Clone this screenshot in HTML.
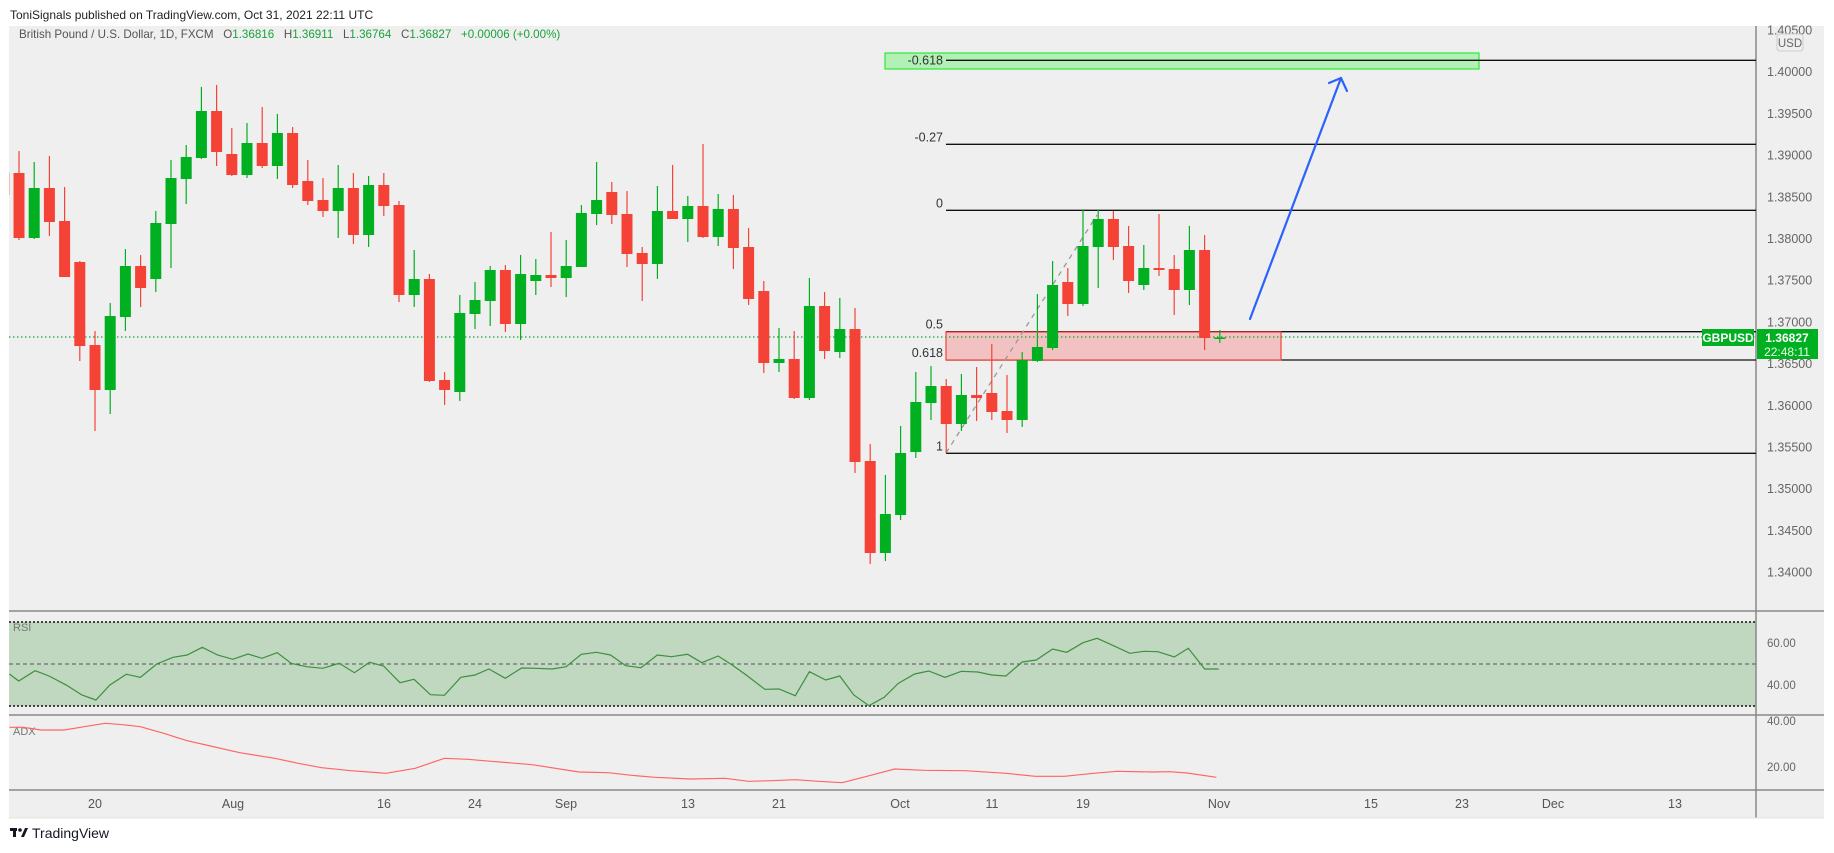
<!DOCTYPE html>
<html><head><meta charset="utf-8">
<style>
html,body{margin:0;padding:0;background:#fff;width:1834px;height:853px;overflow:hidden;font-family:"Liberation Sans",sans-serif;}
svg{position:absolute;left:0;top:0;}
</style></head>
<body>
<svg id="s" width="1834" height="853" xmlns="http://www.w3.org/2000/svg" font-family="Liberation Sans, sans-serif">
<rect x="8" y="26" width="1816" height="792" fill="#efefef"/>
<text x="10" y="19" font-size="12" fill="#222">ToniSignals published on TradingView.com, Oct 31, 2021 22:11 UTC</text>
<text x="19" y="38" font-size="11.6" fill="#555" style="white-space:pre" xml:space="preserve">British Pound / U.S. Dollar, 1D, FXCM   O<tspan fill="#1aa33a">1.36816</tspan>   H<tspan fill="#1aa33a">1.36911</tspan>   L<tspan fill="#1aa33a">1.36764</tspan>   C<tspan fill="#1aa33a">1.36827</tspan>   <tspan fill="#1aa33a">+0.00006 (+0.00%)</tspan></text>
<g id="g"></g>
</svg>
<script>
var g=document.getElementById('g');var h='';
function X(i){return 95+15.2*i;}
h+='<rect x="9" y="622" width="1747" height="84" fill="#bfd8bf"/>';
h+='<line x1="9" y1="622" x2="1756" y2="622" stroke="#111" stroke-dasharray="2,2" stroke-width="1.5"/>';
h+='<line x1="9" y1="706" x2="1756" y2="706" stroke="#111" stroke-dasharray="2,2" stroke-width="1.5"/>';
h+='<line x1="9" y1="664" x2="1756" y2="664" stroke="#555" stroke-dasharray="4,3" stroke-width="1"/>';
[611,715,790].forEach(function(y){h+='<line x1="9" y1="'+y+'" x2="1824" y2="'+y+'" stroke="#888" stroke-width="1.5"/>';});
h+='<line x1="1756" y1="26" x2="1756" y2="818" stroke="#888" stroke-width="1.5"/>';
h+='<line x1="8" y1="818" x2="1824" y2="818" stroke="#e2e2e2" stroke-width="1"/>';
var Y=function(p){return 71.7+(1.4-p)*8340;};
for(var k=0;k<=13;k++){var p=1.405-k*0.005;var y=Y(p);if(y>580)break;if(k==0){y=30;}
 if(Math.abs(y-337)<12)continue;
 h+='<text x="1767" y="'+(y+4.5)+'" font-size="12.5" fill="#666">'+p.toFixed(5)+'</text>';}
h+='<rect x="1777" y="34" width="26" height="17" rx="3" fill="#efefef" stroke="#ccc"/><text x="1790" y="47" font-size="11.5" fill="#666" text-anchor="middle">USD</text>';
[[60,643],[40,685],[40,721],[20,767]].forEach(function(a){h+='<text x="1767" y="'+(a[1]+4)+'" font-size="11.5" fill="#666">'+a[0].toFixed(2)+'</text>';});
h+='<text x="13" y="631" font-size="11" fill="#777">RSI</text><text x="13" y="735" font-size="11" fill="#777">ADX</text>';
[['20',95],['Aug',233],['16',384],['24',475],['Sep',566],['13',688],['21',779],['Oct',900],['11',992],['19',1083],['Nov',1219],['15',1371],['23',1462],['Dec',1553],['13',1675]].forEach(function(d){h+='<text x="'+d[1]+'" y="808" font-size="12.5" fill="#555" text-anchor="middle">'+d[0]+'</text>';});
h+='<rect x="885" y="53" width="594" height="16" fill="#b2f0b5" stroke="#2de83a" stroke-width="1.2"/>';
[60.3,144.3,210.3,331.7,360,453.3].forEach(function(y){h+='<line x1="946" y1="'+y+'" x2="1756" y2="'+y+'" stroke="#111" stroke-width="1.3"/>';});
h+='<rect x="946" y="332" width="335" height="28" fill="#f2c2c2" stroke="#f44336" stroke-width="1.2"/>';
[['-0.618',64.5],['-0.27',141.3],['0',207.3],['0.5',328.7],['0.618',357],['1',450.3]].forEach(function(a){h+='<text x="943" y="'+a[1]+'" font-size="12.5" fill="#333" text-anchor="end">'+a[0]+'</text>';});
h+='<line x1="946" y1="453" x2="1097" y2="215" stroke="#999" stroke-width="1.3" stroke-dasharray="5,5"/>';
h+='<line x1="9" y1="337" x2="1756" y2="337" stroke="#1aa33a" stroke-width="1.2" stroke-dasharray="1.5,2.5"/>';
var C=[[-6,173,195,160,200,0],[-5,173,238,151,240,0],[-4,188,238,162,239,1],[-3,188,222,156,236,0],[-2,221,277,187,277,0],[-1,262,346,261,361,0],[0,345,390,331,431,0],[1,316,390,303,414,1],[2,266,317,249,331,1],[3,266,288,255,307,0],[4,223,279,211,292,1],[5,178,224,160,268,1],[6,157,179,145,204,1],[7,111,158,87,159,1],[8,111,152,85,166,0],[9,154,175,128,176,0],[10,143,175,123,178,1],[11,143,166,107,168,0],[12,133,166,114,179,1],[13,133,185,127,188,0],[14,181,201,160,205,0],[15,200,211,178,217,0],[16,188,211,165,238,1],[17,188,235,173,244,0],[18,185,235,176,247,1],[19,185,206,173,216,0],[20,205,295,201,302,0],[21,279,295,250,307,1],[22,279,381,274,382,0],[23,380,390,372,405,0],[24,313,392,295,401,1],[25,300,314,282,329,1],[26,270,301,266,326,1],[27,270,324,265,332,0],[28,274,324,255,340,1],[29,275,281,259,295,1],[30,275,278,232,287,0],[31,266,278,240,297,1],[32,213,267,205,267,1],[33,200,214,162,225,1],[34,192,215,182,224,0],[35,214,254,191,267,0],[36,253,264,247,301,0],[37,211,264,186,279,1],[38,211,219,165,219,0],[39,206,219,196,242,1],[40,206,237,144,238,0],[41,209,237,194,246,1],[42,209,248,195,269,0],[43,247,299,228,305,0],[44,291,363,281,373,0],[45,359,363,328,372,1],[46,359,398,331,399,0],[47,306,398,278,400,1],[48,306,351,292,359,0],[49,329,352,298,358,1],[50,329,462,308,473,0],[51,461,553,444,564,0],[52,514,553,475,561,1],[53,453,515,426,520,1],[54,402,452,372,458,1],[55,386,403,366,420,1],[56,386,424,379,453,0],[57,395,424,374,431,1],[58,395,398,367,421,0],[59,393,412,344,420,0],[60,411,420,375,433,0],[61,360,420,352,427,1],[62,347,361,294,362,1],[63,285,348,261,350,1],[64,282,304,268,316,0],[65,246,304,210,306,1],[66,219,247,210,288,1],[67,219,247,211,260,0],[68,246,281,226,293,0],[69,268,285,245,290,1],[70,268,270,214,276,0],[71,269,290,255,315,0],[72,250,290,226,305,1],[73,250,338,235,350,0],[74,337.5,339,330,343,1]];
C.forEach(function(c){var x=X(c[0]);var col=c[5]?'#00b020':'#f44336';
 h+='<line x1="'+x+'" y1="'+c[3]+'" x2="'+x+'" y2="'+c[4]+'" stroke="'+col+'" stroke-width="1.2"/>';
 var bh=Math.max(c[2]-c[1],1.5);
 h+='<rect x="'+(x-5.5)+'" y="'+c[1]+'" width="11" height="'+bh+'" fill="'+col+'"/>';});
h+='<rect x="0" y="26" width="9" height="792" fill="#fff"/>';
h+='<g stroke="#2962ff" stroke-width="2.2" fill="none" stroke-linecap="round"><line x1="1250" y1="319" x2="1341" y2="78"/><polyline points="1329,83 1341,78 1347,91"/></g>';
h+='<rect x="1702" y="329" width="52" height="17" fill="#00b020"/><text x="1728" y="342" font-size="12" font-weight="bold" fill="#fff" text-anchor="middle">GBPUSD</text>';
h+='<rect x="1757" y="329" width="61" height="30" fill="#00b020"/><text x="1787" y="342" font-size="12" font-weight="bold" fill="#fff" text-anchor="middle">1.36827</text><text x="1787" y="356" font-size="12" fill="#e8ffe8" text-anchor="middle">22:48:11</text>';
var R=[[8,222],[16,243],[30,212],[42,228],[57,256],[70,285],[82,300],[94,255],[108,223],[120,232],[134,192],[148,172],[160,165],[173,142],[186,165],[199,178],[212,162],[224,175],[237,158],[249,190],[262,200],[276,205],[290,190],[303,218],[316,187],[328,198],[342,248],[354,238],[368,284],[380,286],[394,232],[406,225],[418,207],[432,235],[446,204],[458,205],[472,207],[484,200],[497,163],[510,157],[522,165],[535,197],[548,203],[562,165],[574,170],[588,163],[600,188],[614,168],[626,195],[638,225],[654,268],[666,267],[680,287],[692,215],[706,240],[718,228],[730,285],[743,317],[756,292],[768,250],[782,222],[794,213],[808,232],[822,214],[836,216],[848,225],[860,228],[874,186],[886,180],[900,147],[912,157],[926,128],[938,115],[952,137],[966,160],[978,154],[990,155],[1004,171],[1016,145],[1030,207],[1042,207]];
h+='<polyline fill="none" stroke="#3f8f3f" stroke-width="1.2" points="'+R.map(function(p){return (p[0]*1.1696).toFixed(1)+','+(600+p[1]/3).toFixed(1);}).join(' ')+'"/>';
var A=[[8,382],[20,382],[35,390],[55,390],[72,380],[90,370],[105,374],[120,380],[140,400],[160,422],[180,438],[205,458],[235,475],[255,490],[275,503],[300,512],[330,520],[355,505],[380,475],[400,478],[420,484],[455,494],[495,516],[520,518],[540,526],[560,532],[590,537],[620,535],[640,544],[660,542],[680,539],[700,544],[720,548],[740,530],[765,507],[790,511],[825,512],[860,520],[885,529],[910,529],[935,520],[955,514],[985,516],[1000,515],[1015,519],[1040,532]];
h+='<polyline fill="none" stroke="#f66" stroke-width="1.2" points="'+A.map(function(p){return (p[0]*1.1696).toFixed(1)+','+(600+p[1]/3).toFixed(1);}).join(' ')+'"/>';
h+='<g fill="#131722"><rect x="10" y="828" width="7" height="3"/><rect x="13" y="828" width="3" height="9"/><circle cx="20" cy="830" r="1.8"/><polygon points="21,837 25,828 28,828 24,837"/></g><text x="32" y="838" font-size="14" fill="#131722">TradingView</text>';
g.innerHTML=h;
</script>
</body></html>
